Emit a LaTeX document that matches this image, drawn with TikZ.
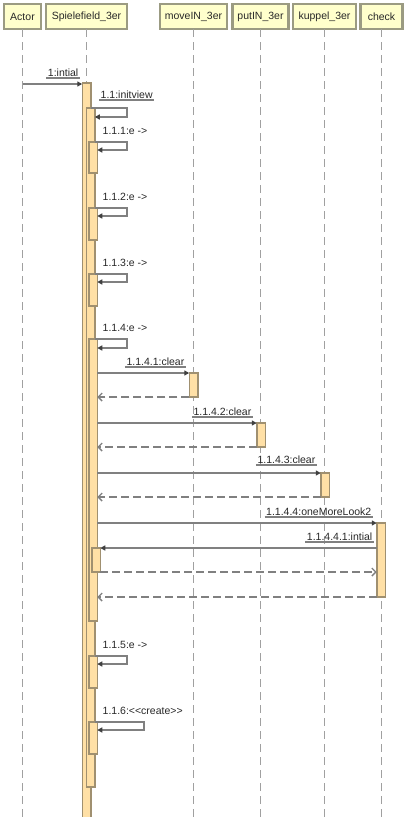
\documentclass[tikz,border=0pt]{standalone}
\usepackage{fontspec}
\setmainfont{Liberation Sans}
\usetikzlibrary{arrows.meta}
\definecolor{hdrfill}{RGB}{255,255,204}
\definecolor{hdrline}{RGB}{155,155,130}
\definecolor{barfill}{RGB}{255,224,166}
\definecolor{barline}{RGB}{160,144,112}
\definecolor{lifec}{RGB}{160,160,160}
\definecolor{msgc}{RGB}{128,128,128}
\definecolor{tipc}{RGB}{64,64,64}
\definecolor{txtc}{RGB}{40,40,40}
\newcommand\sqfont{\fontsize{10.5}{12}\selectfont}
\tikzset{
 hdr/.style={draw=hdrline, fill=hdrfill, line width=2.5pt, inner sep=0pt, outer sep=0pt, text=txtc, font=\sqfont, minimum height=25pt},
 life/.style={draw=lifec, line width=1.5pt, dash pattern=on 8pt off 5pt},
 actbar/.style={draw=barline, fill=barfill, line width=1.5pt, inner sep=0pt, outer sep=0pt, minimum width=8.5pt, anchor=north},
 call/.style={draw=msgc, line width=1.4pt, -{Triangle[length=5pt,width=5pt,fill=tipc,color=tipc]}},
 ret/.style={draw=msgc, line width=1.4pt, dash pattern=on 8pt off 4pt, -{Straight Barb[length=4pt,width=8pt]}},
 lbl/.style={text=txtc, font=\sqfont, inner sep=1.5pt, text depth=0pt, anchor=south east},
 slbl/.style={text=txtc, font=\sqfont, inner sep=0pt, anchor=base west},
 ul/.style={draw=msgc, line width=1.4pt},
}
\begin{document}
\begin{tikzpicture}[x=1pt,y=-1pt]
\useasboundingbox (0,0) rectangle (409,817);
\fill[white] (0,0) rectangle (409,817);
% headers
\node[hdr, minimum width=37pt] (actor) at (22.5,16.5) {Actor};
\node[hdr, minimum width=81pt] (spiel) at (86.5,16.5) {Spielefield\_3er};
\node[hdr, minimum width=67pt] (move) at (193.5,16.5) {moveIN\_3er};
\node[hdr, minimum width=56pt] (put) at (260.5,16.5) {putIN\_3er};
\node[hdr, minimum width=63pt] (kup) at (324.5,16.5) {kuppel\_3er};
\node[hdr, minimum width=42pt] (chk) at (381.5,16.5) {check};
\coordinate (bot) at (0,820);
\foreach \n in {actor,spiel,move,put,kup,chk}
  \draw[life] (\n.south) -- (\n.south |- bot);
% y levels
\foreach \y in {84,108,117,142,150,208,216,274,282,339,348,373,397,423,447,473,497,523,548,572,597,656,664,722,730}
  \coordinate (y\y) at (0,\y);
% activation bars
\node[actbar, minimum height=740pt] (b0) at (86.5,83) {};
\node[actbar, minimum height=679pt] (b1) at (90.5,108) {};
\node[actbar, minimum height=31pt] (b111) at (93,142) {};
\node[actbar, minimum height=32pt] (b112) at (93,208) {};
\node[actbar, minimum height=32pt] (b113) at (93,274) {};
\node[actbar, minimum height=282pt] (b114) at (93,339) {};
\node[actbar, minimum height=24pt] (b1144) at (96,548) {};
\node[actbar, minimum height=32pt] (b115) at (93,656) {};
\node[actbar, minimum height=32pt] (b116) at (93,722) {};
\node[actbar, minimum height=24pt] (mv) at (193.5,373) {};
\node[actbar, minimum height=24pt] (pt) at (261,423) {};
\node[actbar, minimum height=24pt] (kp) at (325,473) {};
\node[actbar, minimum height=74pt] (ck) at (381,523) {};
% 1:intial
\draw[call] (actor.south |- y84) -- (b0.west |- y84);
\node[lbl] (l1) at (80,78) {1:intial};
\draw[ul] (l1.south west) -- (l1.south east);
% 1.1:initview
\draw[call] (b0.east |- y108) -- (127,108) -- (127,117) -- (b1.east |- y117);
\node[lbl, anchor=south west] (l11) at (99,100) {1.1:initview};
\draw[ul] (l11.south west) -- (l11.south east);
% self messages
\draw[call] (b1.east |- y142) -- (127,142) -- (127,150) -- (b111.east |- y150);
\node[slbl] (l111) at (102.5,134) {1.1.1:e ->};
\draw[call] (b1.east |- y208) -- (127,208) -- (127,216) -- (b112.east |- y216);
\node[slbl] (l112) at (102.5,200) {1.1.2:e ->};
\draw[call] (b1.east |- y274) -- (127,274) -- (127,282) -- (b113.east |- y282);
\node[slbl] (l113) at (102.5,266) {1.1.3:e ->};
\draw[call] (b1.east |- y339) -- (127,339) -- (127,348) -- (b114.east |- y348);
\node[slbl] (l114) at (102.5,331) {1.1.4:e ->};
% 1.1.4.1
\draw[call] (b114.east |- y373) -- (mv.north west);
\node[lbl] (l1141) at (186,367) {1.1.4.1:clear};
\draw[ul] (l1141.south west) -- (l1141.south east);
\draw[ret] (mv.south west) -- (b114.east |- y397);
% 1.1.4.2
\draw[call] (b114.east |- y423) -- (pt.north west);
\node[lbl] (l1142) at (253,417) {1.1.4.2:clear};
\draw[ul] (l1142.south west) -- (l1142.south east);
\draw[ret] (pt.south west) -- (b114.east |- y447);
% 1.1.4.3
\draw[call] (b114.east |- y473) -- (kp.north west);
\node[lbl] (l1143) at (317,465) {1.1.4.3:clear};
\draw[ul] (l1143.south west) -- (l1143.south east);
\draw[ret] (kp.south west) -- (b114.east |- y497);
% 1.1.4.4
\draw[call] (b114.east |- y523) -- (ck.north west);
\node[lbl] (l1144) at (373,517) {1.1.4.4:oneMoreLook2};
\draw[ul] (l1144.south west) -- (l1144.south east);
\draw[call] (ck.west |- y548) -- (b1144.north east);
\node[lbl] (l11441) at (374,542) {1.1.4.4.1:intial};
\draw[ul] (l11441.south west) -- (l11441.south east);
\draw[ret] (b1144.south east) -- (ck.west |- y572);
\draw[ret] (ck.south west) -- (b114.east |- y597);
% 1.1.5, 1.1.6
\draw[call] (b1.east |- y656) -- (127,656) -- (127,664) -- (b115.east |- y664);
\node[slbl] (l115) at (102.5,648) {1.1.5:e ->};
\draw[call] (b1.east |- y722) -- (144,722) -- (144,730) -- (b116.east |- y730);
\node[slbl] (l116) at (102.5,714) {1.1.6:<{}<create>{}>};
\end{tikzpicture}
\end{document}
